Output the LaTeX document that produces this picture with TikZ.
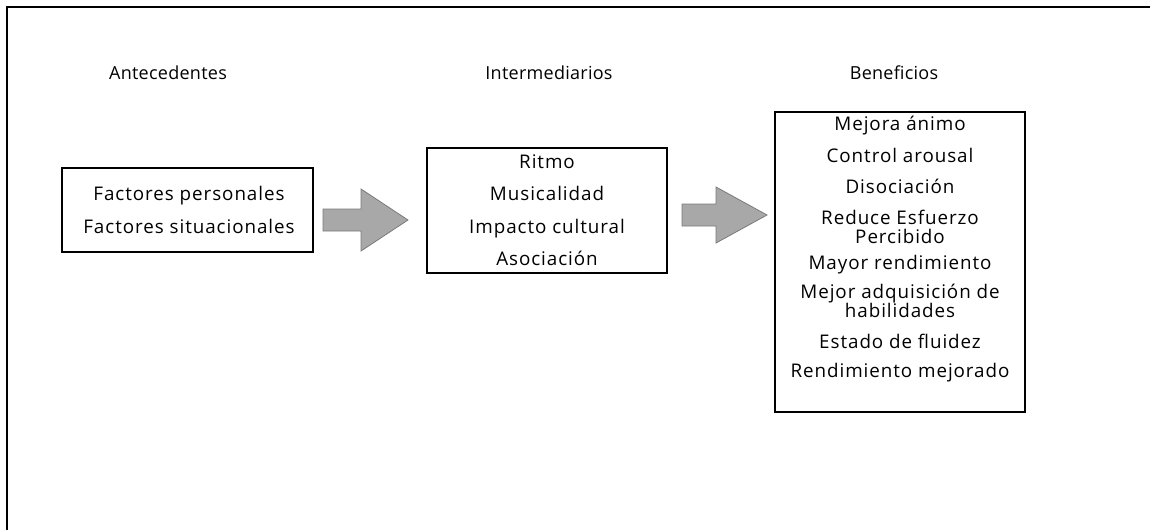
\documentclass[tikz,border=0pt]{standalone}
\usepackage{fontspec}
\setmainfont{Open Sans}
\newfontfamily\titlefont[LetterSpace=1.5]{Open Sans}
\newfontfamily\itemfont[LetterSpace=5]{Open Sans}
\definecolor{arrowfill}{HTML}{A8A8A8}
\definecolor{arrowline}{HTML}{7A7A7A}
\begin{document}
\begin{tikzpicture}[x=1pt,y=-1pt,
  title/.style={font=\titlefont\fontsize{18}{21}\selectfont, anchor=base, inner sep=0pt},
  item/.style={font=\itemfont\fontsize{18.8}{21}\selectfont, anchor=base, inner sep=0pt},
  boxframe/.style={draw=black, line width=1.6pt},
  bigarrow/.style={fill=arrowfill, draw=arrowline, line width=0.8pt, line join=miter}]
\useasboundingbox (0,0) rectangle (1150,530);
% outer frame (top and left only)
\coordinate (fl) at (7,530);
\coordinate (ftl) at (7,7);
\coordinate (ftr) at (1150,7);
\draw[line width=2.6pt] (fl) -- (ftl) -- (ftr);
% titles
\node[title] (t1) at (168,79) {Antecedentes};
\node[title] (t2) at (549,79) {Intermediarios};
\node[title] (t3) at (894,79) {Beneficios};
% box 1
\draw[boxframe] (62,168) rectangle (313,252);
\node[item] (a1) at (189,200) {Factores personales};
\node[item] (a2) at (189,233) {Factores situacionales};
% arrow 1
\draw[bigarrow] (323,209) -- (361,209) -- (361,189) -- (408,220) -- (361,251) -- (361,231) -- (323,231) -- cycle;
% box 2
\draw[boxframe] (427,148) rectangle (667,273);
\node[item] (b1) at (547,168) {Ritmo};
\node[item] (b2) at (547,200) {Musicalidad};
\node[item] (b3) at (547,233) {Impacto cultural};
\node[item] (b4) at (547,265) {Asociación};
% arrow 2
\draw[bigarrow] (682,204) -- (716,204) -- (716,187) -- (767,215) -- (716,243) -- (716,226) -- (682,226) -- cycle;
% box 3
\draw[boxframe] (775,112) rectangle (1025,412);
\node[item] (c1) at (900,130) {Mejora ánimo};
\node[item] (c2) at (900,162) {Control arousal};
\node[item] (c3) at (900,193) {Disociación};
\node[item] (c4a) at (900,224) {Reduce Esfuerzo};
\node[item] (c4b) at (900,243) {Percibido};
\node[item] (c5) at (900,269) {Mayor rendimiento};
\node[item] (c6a) at (900,298) {Mejor adquisición de};
\node[item] (c6b) at (900,317) {habilidades};
\node[item] (c7) at (900,348) {Estado de fluidez};
\node[item] (c8) at (900,377) {Rendimiento mejorado};
\end{tikzpicture}
\end{document}
